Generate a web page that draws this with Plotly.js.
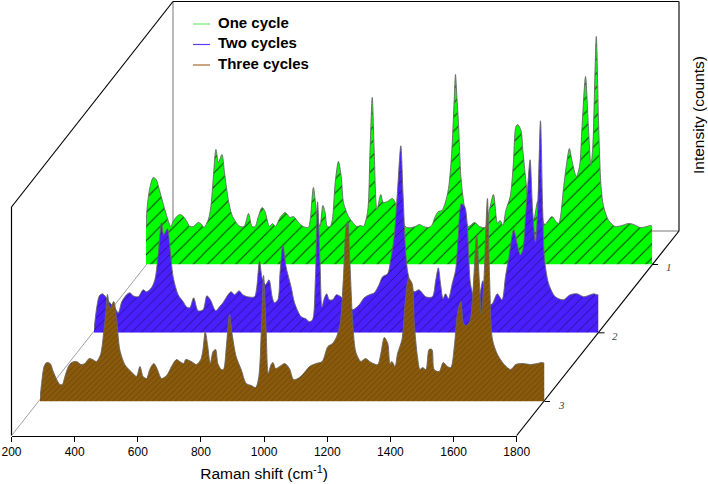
<!DOCTYPE html>
<html>
<head>
<meta charset="utf-8">
<script src="https://cdn.plot.ly/plotly-3.0.1.min.js"></script>
<style>html,body{margin:0;padding:0;background:#fff}#c{width:708px;height:484px}</style>
</head>
<body>
<div id="c"></div>
<script>
const seriesNames = ["One cycle", "Two cycles", "Three cycles"];
const depthLabels = ["1", "2", "3"];
const xTicks = [200,400,600,800,1000,1200,1400,1600,1800];

const oneX = [200,204,213,223,232,242,255,271,278,286,297,308,318,329,339,350,360,367,376,383,397,405,413,421,429,440,448,460,471,485,497,510,524,535,545,555,567,576,590,600,609,624,640,655,666,682,697,713,719,729,738,745,750,759,766,773,782,789,798,808,817,824,840,856,866,879,887,900,908,915,921,930,942,950,963,979,993,1005,1015,1024,1040,1051,1064,1077,1093,1103,1114,1124,1135,1145,1156,1166,1174,1178,1182,1188,1195,1205,1219,1238,1254,1272,1285,1298,1311,1319,1328,1337,1351,1361,1369,1375,1385,1391,1400,1412,1425,1438,1448,1460,1483,1493,1504,1520,1528,1538,1546,1560,1570,1578,1589,1598,1606,1612,1623,1630,1638,1646,1662,1683,1704,1725,1741,1762,1783,1794,1800];
const oneY = [38,58,78,87,85,75,60,43,38,43,48,50,48,43,38,38,41,42,40,37,45,58,88,115,102,110,92,65,50,42,38,38,51,38,38,48,57,53,38,41,38,47,52,47,48,42,38,37,45,77,55,42,38,59,52,38,38,45,82,103,88,62,48,41,38,39,38,52,115,167,115,55,70,62,63,66,58,48,40,37,37,38,40,38,37,39,48,53,54,61,76,111,165,190,170,138,88,60,38,42,38,37,54,70,41,44,39,54,68,101,138,140,134,114,85,55,45,63,55,40,48,44,41,78,98,116,104,88,98,138,188,138,99,118,228,144,78,58,44,38,39,41,40,37,38,39,38];

const twoX = [200,209,217,227,237,245,256,266,277,288,303,314,324,340,356,367,382,393,403,414,421,433,440,451,467,483,493,504,516,530,546,558,569,586,598,609,625,635,646,660,672,688,709,716,725,733,744,755,765,772,783,790,799,809,825,836,857,872,883,893,902,909,917,923,930,938,946,957,969,983,1000,1020,1041,1057,1073,1089,1104,1115,1131,1141,1152,1162,1173,1180,1189,1196,1215,1231,1252,1273,1284,1292,1299,1307,1315,1324,1336,1347,1355,1365,1376,1384,1394,1405,1415,1425,1433,1442,1452,1463,1479,1494,1505,1516,1531,1542,1552,1560,1568,1576,1583,1591,1600,1607,1616,1623,1629,1642,1663,1689,1710,1732,1753,1774,1786,1795,1800];
const twoY = [3,26,37,39,36,32,28,25,20,31,38,40,37,36,43,41,45,53,76,110,98,104,88,56,38,31,26,25,35,22,23,37,33,22,26,30,38,41,38,42,38,36,36,45,72,55,48,53,36,30,33,60,88,66,46,30,16,14,11,13,53,131,69,26,34,39,33,33,38,36,30,23,28,35,38,40,48,56,59,73,96,139,187,139,79,59,41,43,36,36,53,65,49,34,39,34,49,63,96,129,126,106,49,35,30,40,52,40,28,29,39,33,56,76,103,89,78,83,113,149,173,123,91,123,212,123,73,49,36,33,38,39,36,38,39,38,38];

const threeX = [200,205,213,221,232,242,253,263,271,279,290,300,316,330,342,356,367,379,392,403,409,414,422,434,443,453,469,485,495,506,517,527,538,548,561,571,585,598,606,617,633,643,656,662,680,696,710,717,724,732,740,749,757,764,775,782,791,801,809,822,838,854,870,884,894,902,909,917,924,933,939,947,960,976,991,1004,1018,1033,1055,1076,1095,1113,1128,1141,1152,1162,1171,1176,1183,1192,1202,1218,1232,1250,1271,1281,1292,1303,1310,1316,1326,1334,1348,1358,1369,1380,1387,1397,1405,1413,1424,1434,1443,1450,1466,1479,1492,1503,1514,1524,1535,1543,1552,1563,1572,1585,1593,1600,1608,1619,1626,1635,1651,1672,1693,1709,1730,1756,1777,1793,1800];
const threeY = [2,18,35,39,38,30,22,17,17,25,35,39,40,37,38,43,42,40,47,72,90,107,93,100,82,52,37,31,28,25,35,25,23,32,38,33,23,25,28,35,42,40,38,42,40,37,42,52,70,55,38,50,52,38,32,32,55,87,68,45,32,18,16,14,25,72,126,72,28,37,39,33,35,38,33,22,23,27,35,38,40,55,58,65,78,122,175,180,138,78,49,40,43,39,37,48,64,58,38,40,35,48,62,98,123,118,78,45,32,34,32,52,52,32,30,39,35,34,55,88,100,78,76,80,105,167,122,87,122,203,122,62,47,37,32,37,38,37,38,39,38];

const W = 708, H = 484, span = 250;
const px = v => v / W, py = v => (H - v) / H;
const base = [264.5, 332.8, 401.5], left = [146, 94, 40], right = [652.3, 598.5, 544.5];
const fills = ["#00ff00", "#4a1fff", "#8a5a0c"];
const hatch = ["#0f3a0f", "#16105c", "#3f2806"];
const sizes = [10, 7, 4];
const legendColors = ["#6fe86f", "#5a3cff", "#a56a2c"];
const xs = [oneX, twoX, threeX], ys = [oneY, twoY, threeY];

const axisHolder = {x: xTicks, y: xTicks.map(() => 0), xaxis: "x", yaxis: "y", type: "scatter", mode: "none", showlegend: false, hoverinfo: "skip"};
const traces = [axisHolder].concat(xs.map((x, i) => ({
  x, y: ys[i], xaxis: "x" + (i + 2), yaxis: "y" + (i + 2), name: seriesNames[i],
  type: "scatter", mode: "lines", fill: "tozeroy", showlegend: false, hoverinfo: "skip",
  line: {color: "#666", width: 0.9, shape: "spline", smoothing: 0.8},
  fillcolor: fills[i],
  fillpattern: {shape: "/", bgcolor: fills[i], fgcolor: hatch[i], size: sizes[i], solidity: 0.1}
})));

const line = (x0, y0, x1, y1, color, width) => ({type: "line", xref: "paper", yref: "paper", layer: "below",
  x0: px(x0), y0: py(y0), x1: px(x1), y1: py(y1), line: {color, width}});
const shapes = [
  line(173, 1.5, 173, 232, "#777", 1),
  line(12, 435, 173, 231, "#888", 0.8),
  line(173, 231, 679, 231, "#777", 1),
  line(11.5, 207, 11.5, 435.5, "#000", 1.2),
  line(11.5, 207, 173, 1.5, "#000", 1.2),
  line(173, 1.5, 679, 1.5, "#000", 1.2),
  line(679, 1.5, 679, 231, "#333", 1.4),
  line(516.7, 435.5, 679, 231, "#000", 1.2),
  line(652.3, 264.5, 658, 264.5, "#000", 1),
  line(598.5, 332.8, 604.5, 332.8, "#000", 1),
  line(544.5, 401.5, 550, 401.5, "#000", 1),
  line(193, 24, 210, 24, legendColors[0], 1.2),
  line(193, 44.5, 210, 44.5, legendColors[1], 1.2),
  line(193, 65, 210, 65, legendColors[2], 1.2)
];
const note = (text, x, y, opts) => Object.assign({xref: "paper", yref: "paper", x: px(x), y: py(y),
  text, showarrow: false, xanchor: "center", yanchor: "middle", font: {family: "Liberation Sans", size: 14, color: "#000"}}, opts);
const annotations = [
  ...seriesNames.map((n, i) => note("<b>" + n + "</b>", 215.5, [22.5, 43, 63.5][i], {xanchor: "left", font: {family: "Liberation Sans", size: 15, color: "#000"}})),
  ...depthLabels.map((n, i) => note("<i>" + n + "</i>", [669, 615, 561][i], [267, 336, 405][i], {font: {family: "Liberation Serif", size: 11, color: "#444"}})),
  note("Intensity (counts)", 698, 115, {textangle: -90, font: {family: "Liberation Sans", size: 15.5, color: "#000"}})
];

const layout = {
  width: W, height: H, margin: {l: 0, r: 0, t: 0, b: 0},
  paper_bgcolor: "#fff", plot_bgcolor: "rgba(0,0,0,0)", showlegend: false,
  font: {family: "Liberation Sans", color: "#000", size: 12},
  xaxis: {domain: [px(11.5), px(516.7)], range: [200, 1800], anchor: "y", tickmode: "array", tickvals: xTicks,
    ticks: "outside", ticklen: 5, tickwidth: 1, tickcolor: "#000", showline: true, linecolor: "#000", linewidth: 1.2,
    showgrid: false, zeroline: false, tickfont: {size: 12},
    title: {text: "Raman shift (cm<sup>-1</sup>)", font: {size: 15.5}, standoff: 10}},
  yaxis: {domain: [py(435.5), 1], range: [0, 1], visible: false},
  shapes, annotations
};
[0, 1, 2].forEach(i => {
  layout["xaxis" + (i + 2)] = {domain: [px(left[i]), px(right[i])], range: [200, 1800], visible: false, anchor: "y" + (i + 2)};
  layout["yaxis" + (i + 2)] = {domain: [py(base[i]), py(base[i] - span)], range: [0, span], visible: false, anchor: "x" + (i + 2)};
});
Plotly.newPlot("c", traces, layout, {displayModeBar: false, staticPlot: true});
</script>
</body>
</html>
